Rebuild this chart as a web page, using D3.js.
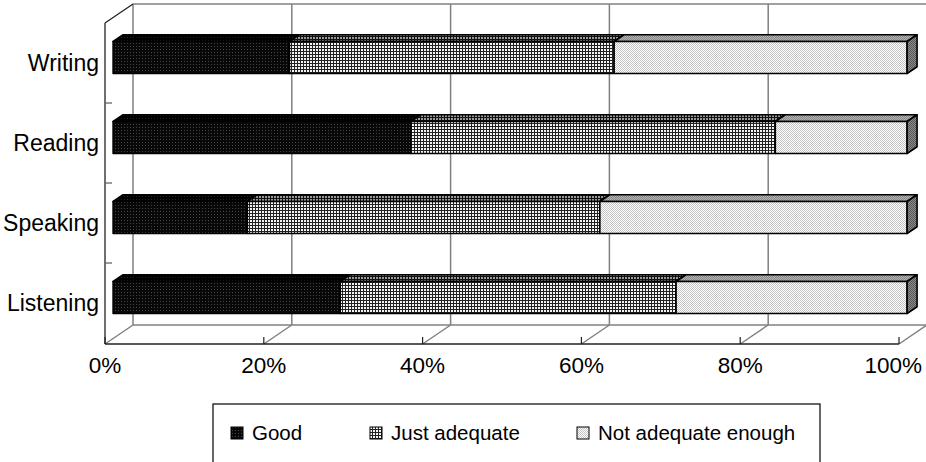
<!DOCTYPE html>
<html>
<head>
<meta charset="utf-8">
<script src="https://cdn.jsdelivr.net/npm/d3@7"></script>
<style>
  html, body { margin: 0; padding: 0; background: #fff; }
  svg { display: block; }
  text { font-family: "Liberation Sans", Arial, sans-serif; fill: #000; }
</style>
</head>
<body>
<svg id="chart" width="926" height="462"></svg>
<script>
// Self-assessed language skills (percent of respondents)
const categories = ["Writing", "Reading", "Speaking", "Listening"];
const seriesNames = ["Good", "Just adequate", "Not adequate enough"];
const good = [22.2, 37.5, 16.9, 28.6];
const justAdequate = [40.9, 45.9, 44.4, 42.3];
const notAdequate = [36.9, 16.6, 38.7, 29.1];
const xTicks = [0, 20, 40, 60, 80, 100];
const xTickLabels = ["0%", "20%", "40%", "60%", "80%", "100%"];

const series = [good, justAdequate, notAdequate];

const W = 926;
const svg = d3.select("#chart");

// Front plane of the 3-D box and the oblique depth offset
const x = d3.scaleLinear().domain([0, 100]).range([105, 899]);
const y = d3.scaleBand().domain(categories).range([23, 343])
  .paddingInner(0.6).paddingOuter(0.3);
const depth = { dx: 28, dy: -19 };
const barFront = 0.29, barBack = 0.645;
const P = (v, yy, d) => [x(v) + depth.dx * d, yy + depth.dy * d];

// Fill patterns
const defs = svg.append("defs");
function pattern(id, size, bg, pixels) {
  const p = defs.append("pattern").attr("id", id)
    .attr("patternUnits", "userSpaceOnUse")
    .attr("width", size).attr("height", size);
  p.append("rect").attr("width", size).attr("height", size).attr("fill", bg);
  pixels.forEach(([px, py, w, h, c]) => {
    p.append("rect").attr("x", px).attr("y", py).attr("width", w).attr("height", h)
      .attr("fill", c).attr("shape-rendering", "crispEdges");
  });
}
pattern("goodFront", 3, "#080808", [[1, 1, 1, 1, "#464646"]]);
pattern("goodTop", 3, "#000", [[1, 1, 1, 1, "#222"]]);
pattern("justFront", 3, "#f4f4f4", [[0, 0, 3, 1, "#222"], [0, 0, 1, 3, "#222"]]);
pattern("justTop", 3, "#999", [[0, 0, 3, 1, "#111"], [0, 0, 1, 3, "#111"]]);
pattern("notFront", 2, "#fff", [[0, 0, 1, 1, "#c2c2c2"], [1, 1, 1, 1, "#c2c2c2"]]);
pattern("notTop", 2, "#b4b4b4", [[0, 0, 1, 1, "#868686"], [1, 1, 1, 1, "#868686"]]);
pattern("endFace", 2, "#8a8a8a", [[0, 0, 1, 1, "#585858"], [1, 1, 1, 1, "#585858"]]);

const frontFill = ["url(#goodFront)", "url(#justFront)", "url(#notFront)"];
const topFill = ["url(#goodTop)", "url(#justTop)", "url(#notTop)"];

const grid = svg.append("g").attr("fill", "none");
const gray = "#808080", dark = "#222";

// Back wall with vertical gridlines
xTicks.forEach(t => {
  const [bx, by] = P(t, 23, 1);
  grid.append("line").attr("x1", bx).attr("y1", by).attr("x2", bx).attr("y2", P(t, 344, 1)[1])
    .attr("stroke", gray).attr("stroke-width", 1.5);
});
grid.append("line").attr("x1", P(0, 23, 1)[0]).attr("y1", P(0, 23, 1)[1])
  .attr("x2", P(100, 23, 1)[0]).attr("y2", P(100, 23, 1)[1])
  .attr("stroke", gray).attr("stroke-width", 1.5);
grid.append("line").attr("x1", P(0, 344, 1)[0]).attr("y1", P(0, 344, 1)[1])
  .attr("x2", P(100, 344, 1)[0]).attr("y2", P(100, 344, 1)[1])
  .attr("stroke", gray).attr("stroke-width", 1.5);

// Floor: depth lines per tick, front edge and tick marks
xTicks.forEach(t => {
  const f = P(t, 344, 0), b = P(t, 344, 1);
  grid.append("line").attr("x1", f[0]).attr("y1", f[1]).attr("x2", b[0]).attr("y2", b[1])
    .attr("stroke", gray).attr("stroke-width", 1.5);
  grid.append("line").attr("x1", f[0]).attr("y1", f[1]).attr("x2", f[0]).attr("y2", f[1] - 7)
    .attr("stroke", dark).attr("stroke-width", 1.2);
});
grid.append("line").attr("x1", x(0)).attr("y1", 344).attr("x2", x(100)).attr("y2", 344)
  .attr("stroke", dark).attr("stroke-width", 1.3);

// Left wall: axis line, top edge and category ticks
grid.append("line").attr("x1", x(0)).attr("y1", 23).attr("x2", x(0)).attr("y2", 344)
  .attr("stroke", dark).attr("stroke-width", 1.3);
grid.append("line").attr("x1", P(0, 23, 0)[0]).attr("y1", 23)
  .attr("x2", P(0, 23, 1)[0]).attr("y2", P(0, 23, 1)[1])
  .attr("stroke", dark).attr("stroke-width", 1.3);
categories.forEach((c, i) => {
  if (i === 0) return;
  const yy = y(c) - (y.step() - y.bandwidth()) / 2;
  grid.append("line").attr("x1", x(0)).attr("y1", yy).attr("x2", x(0) + 7).attr("y2", yy)
    .attr("stroke", "#666").attr("stroke-width", 1.3);
});

// Stacked 3-D bars
const bars = svg.append("g").attr("stroke", "#000").attr("stroke-width", 1.6)
  .attr("stroke-linejoin", "round");
categories.forEach((cat, ci) => {
  const top = y(cat), bottom = y(cat) + y.bandwidth();
  let v0 = 0;
  series.forEach((vals, si) => {
    const v1 = v0 + vals[ci];
    const topFace = [P(v0, top, barFront), P(v1, top, barFront), P(v1, top, barBack), P(v0, top, barBack)];
    bars.append("polygon").attr("points", topFace.map(p => p.join(",")).join(" "))
      .attr("fill", topFill[si]);
    const a = P(v0, top, barFront), b = P(v1, bottom, barFront);
    bars.append("rect").attr("x", a[0]).attr("y", a[1])
      .attr("width", b[0] - a[0]).attr("height", b[1] - a[1])
      .attr("fill", frontFill[si]);
    if (si === series.length - 1) {
      const endFace = [P(v1, top, barFront), P(v1, top, barBack), P(v1, bottom, barBack), P(v1, bottom, barFront)];
      bars.append("polygon").attr("points", endFace.map(p => p.join(",")).join(" "))
        .attr("fill", "url(#endFace)");
    }
    v0 = v1;
  });
});

// Axis labels
svg.append("g").selectAll("text").data(categories).join("text")
  .attr("x", 99).attr("y", d => y(d) + y.bandwidth() / 2 + 8)
  .attr("text-anchor", "end").attr("font-size", 23).text(d => d);
svg.append("g").selectAll("text").data(xTicks).join("text")
  .attr("x", d => x(d)).attr("y", 373)
  .attr("text-anchor", "middle").attr("font-size", 22.5).text((d, i) => xTickLabels[i])
  .each(function () {
    // keep the last label inside the drawing area
    const bb = this.getBBox();
    const over = bb.x + bb.width - (W - 4);
    if (over > 0) d3.select(this).attr("x", +d3.select(this).attr("x") - over);
  });

// Legend
const legend = svg.append("g");
legend.append("rect").attr("x", 213).attr("y", 404).attr("width", 607).attr("height", 80)
  .attr("fill", "#fff").attr("stroke", "#000").attr("stroke-width", 1.2);
const legendX = [231, 370, 577];
seriesNames.forEach((name, i) => {
  legend.append("rect").attr("x", legendX[i]).attr("y", 427).attr("width", 12).attr("height", 12)
    .attr("fill", frontFill[i]).attr("stroke", "#000").attr("stroke-width", 1);
  legend.append("text").attr("x", legendX[i] + 21).attr("y", 440)
    .attr("font-size", 20.5).text(name);
});
</script>
</body>
</html>
